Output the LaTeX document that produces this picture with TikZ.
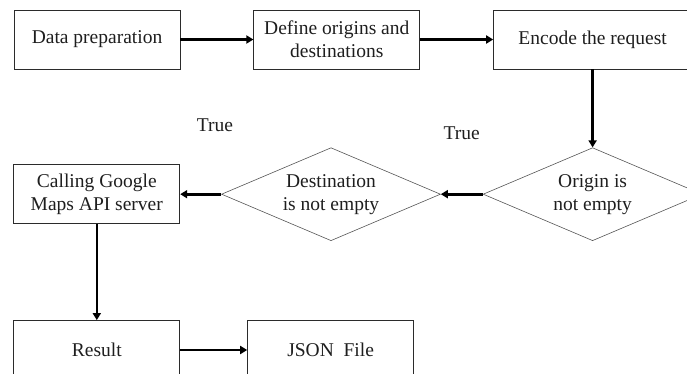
\documentclass[tikz,border=0pt]{standalone}
\usepackage{fontspec}
\setmainfont{Liberation Serif}
\usetikzlibrary{arrows.meta,positioning,shapes.geometric}
\definecolor{boxLine}{HTML}{2B2B2B}
\definecolor{diaLine}{HTML}{555555}
\definecolor{inkText}{HTML}{1E1E1E}

\begin{document}
\begin{tikzpicture}[
  font=\fontsize{19.5}{23}\selectfont,
  stepbox/.style={draw=boxLine,line width=0.8pt,minimum width=166pt,minimum height=59pt,align=center,text=inkText,inner sep=0pt},
  testdia/.style={diamond,draw=diaLine,line width=0.6pt,aspect=2.35,minimum width=219pt,minimum height=93pt,align=center,text=inkText,inner sep=0pt},
  lbl/.style={text=inkText},
  flow/.style={-{Triangle[length=7pt,width=8pt]},line width=2.6pt,black}]
  \useasboundingbox (0,0) rectangle (687pt,-374pt);
  \node[stepbox] (prep) at (97pt,-39.5pt) {Data preparation};
  \node[stepbox,right=73pt of prep] (define) {Define origins and\\destinations};
  \node[stepbox,right=73pt of define,minimum width=198pt] (encode) {Encode the request};
  \node[testdia,below=78pt of encode] (origin) {Origin is\\not empty};
  \node[testdia,left=42pt of origin] (dest) {Destination\\is not empty};
  \node[stepbox,left=41pt of dest] (calling) {Calling Google\\Maps API server};
  \node[stepbox,below=96pt of calling] (result) {Result};
  \node[stepbox,right=67pt of result] (json) {JSON\ \ File};
  \draw[flow] (prep) -- (define);
  \draw[flow] (define) -- (encode);
  \draw[flow] (encode) -- (origin);
  \draw[flow] (origin) -- node[lbl,above=50pt]{True} (dest);
  \draw[flow] (dest) -- node[lbl,pos=0.15,above=58pt]{True} (calling);
  \draw[flow] (calling) -- (result);
  \draw[flow] (result) -- (json);
\end{tikzpicture}
\end{document}
